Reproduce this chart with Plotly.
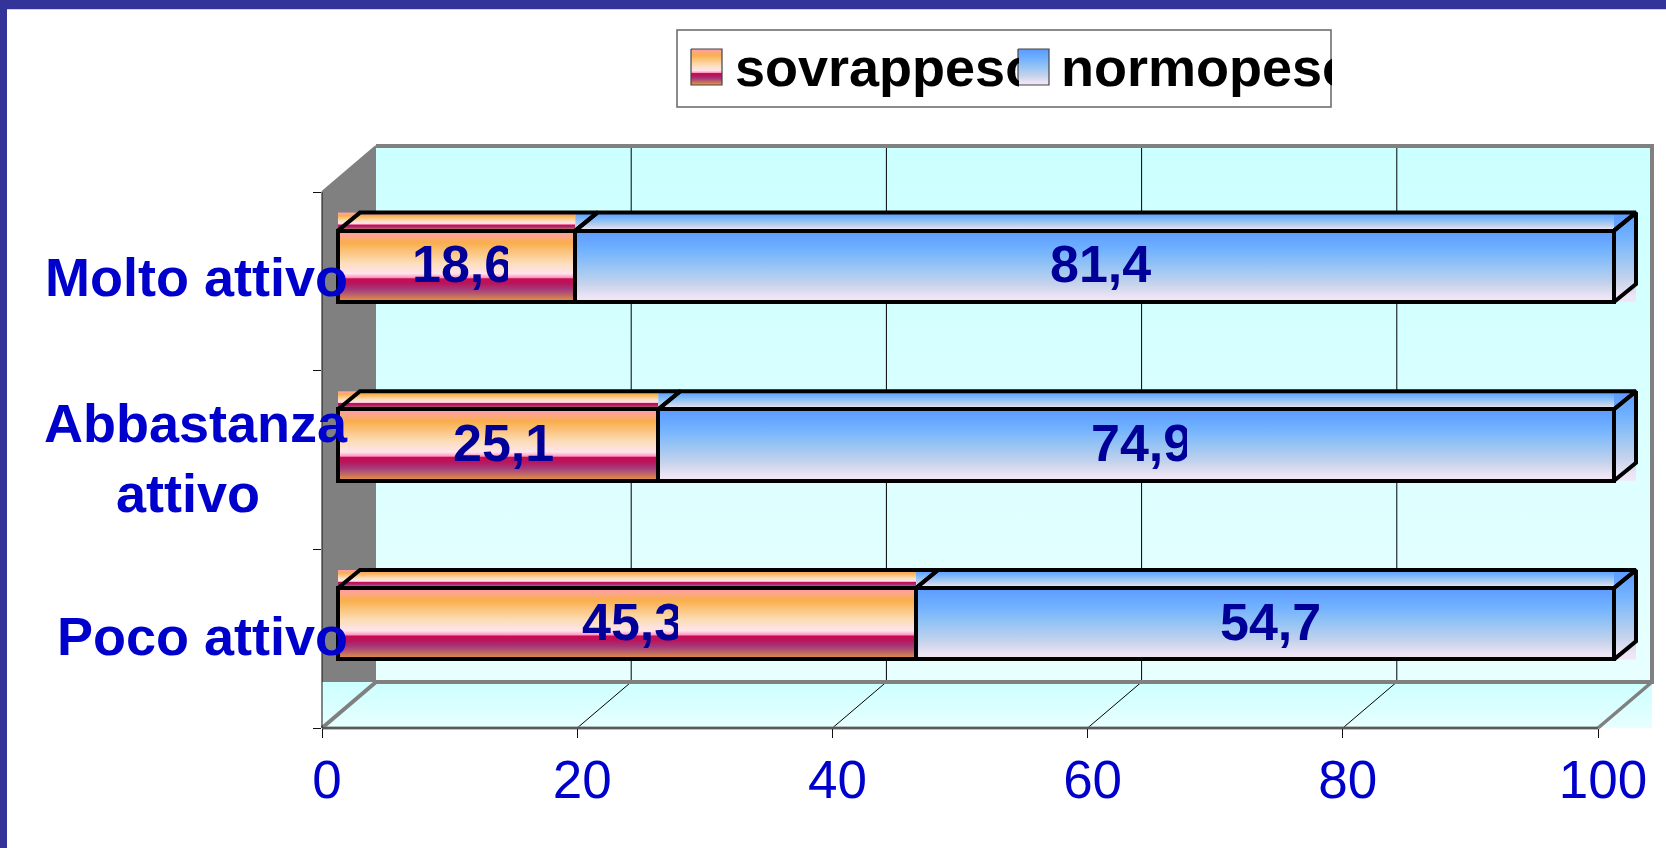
import plotly.graph_objects as go

# ---------- data ----------
categories = ["Poco attivo", "Abbastanza attivo", "Molto attivo"]
category_labels = ["Poco attivo", "Abbastanza<br>attivo\u00a0", "Molto attivo"]
sovrappeso = [45.3, 25.1, 18.6]
normopeso = [54.7, 74.9, 81.4]
value_labels_sovrappeso = ["45,3", "25,1", "18,6"]
value_labels_normopeso = ["54,7", "74,9", "81,4"]
x_ticks = [0, 20, 40, 60, 80, 100]
series_names = ["sovrappeso", "normopeso"]

# ---------- styles / geometry (pixels of the 1666x848 page) ----------
W, H = 1666, 848
ROOM_L, ROOM_R, ROOM_T, ROOM_B = 322, 1652, 146, 728
UX = (1598 - 322) / 100      # px per value unit
UY = (728 - 192) / 3         # px per category
WALL_DX = 54 / UX
WALL_DY = 46 / UY
BAR_L, BAR_T, BAR_B = 338, 177, 713
BAR_DX = 22 / UX
BAR_DY = 18 / UY
BAR_W = 0.4
OUTLINE = 4
BLUE_TEXT = "#0000CC"
NAVY = "#000099"
FONT = "Liberation Sans"
GRAY = "#808080"

ORANGE = [[0.0, "#FF9AA0"], [0.07, "#FDA590"], [0.17, "#F9AE4A"], [0.30, "#FBC47E"],
          [0.45, "#FCDDB8"], [0.60, "#FFE4EC"], [0.655, "#FF99C0"], [0.675, "#C60C52"],
          [0.74, "#B8155C"], [0.82, "#A5397A"], [0.90, "#BD6468"], [1.0, "#EE9A3C"]]
BLUE = [[0.0, "#5C9AFF"], [0.25, "#6FB0FF"], [0.5, "#96C4F4"], [0.75, "#C6D3EC"],
        [0.92, "#EBE4F4"], [1.0, "#F4E6F6"]]
WALL_TOP_DOWN = [[0.0, "#CCFFFF"], [1.0, "#E8FFFF"]]


def flip(scale):
    return [[1 - p, c] for p, c in reversed(scale)]


def dom_x(a, b):
    return [a / W, b / W]


def dom_y(top, bottom):
    return [(H - bottom) / H, (H - top) / H]


fig = go.Figure()


def poly(xs, ys, xa, ya, grad=None, fill=None, line=None, width=0):
    kw = dict(x=xs, y=ys, xaxis=xa, yaxis=ya, mode="lines", showlegend=False,
              hoverinfo="skip", cliponaxis=False)
    if line is None:
        kw["line"] = dict(width=0)
        kw["mode"] = "none"
    else:
        kw["line"] = dict(color=line, width=width)
    if grad is not None:
        kw["fill"] = "toself"
        kw["fillgradient"] = dict(type="vertical", colorscale=grad, start=min(ys), stop=max(ys))
    elif fill is not None:
        kw["fill"] = "toself"
        kw["fillcolor"] = fill
    fig.add_trace(go.Scatter(**kw))


top_x = 100 + WALL_DX
top_y = 3 + WALL_DY
PADX, PADY = 1.0, 0.05    # room around the marks so that no outline is cut

# ---------- room (x / y, hidden axes with some padding) ----------
poly([0, 0, WALL_DX, WALL_DX, 0], [WALL_DY, 3, top_y, WALL_DY, WALL_DY], "x", "y", fill=GRAY)
poly([WALL_DX, top_x, top_x, WALL_DX, WALL_DX], [WALL_DY, WALL_DY, top_y, top_y, WALL_DY],
     "x", "y", grad=flip(WALL_TOP_DOWN))
poly([0, top_x, top_x, 0, 0], [0, 0, WALL_DY, WALL_DY, 0], "x", "y", grad=flip(WALL_TOP_DOWN))

for t in x_ticks[1:-1]:
    poly([t, t + WALL_DX, t + WALL_DX], [0, WALL_DY, top_y], "x", "y", line="#000000", width=1)
poly([0, WALL_DX, top_x, top_x], [0, WALL_DY, WALL_DY, top_y], "x", "y", line=GRAY, width=4)
poly([100, top_x], [0, WALL_DY], "x", "y", line=GRAY, width=3.5)
poly([WALL_DX, top_x, top_x], [top_y, top_y, WALL_DY], "x", "y", line=GRAY, width=4)
poly([0, WALL_DX], [3, top_y], "x", "y", line=GRAY, width=2)
poly([0, 100], [0, 0], "x", "y", line=GRAY, width=3)
poly([0, 100], [0, 0], "x", "y", line="#333333", width=1)
poly([0, 0], [0, 3], "x", "y", line="#111111", width=1)

# ---------- bar faces: gradients and depth edges (x2 / y2) ----------
for i in range(len(categories)):
    segments = [(0, sovrappeso[i], flip(ORANGE)),
                (sovrappeso[i], sovrappeso[i] + normopeso[i], flip(BLUE))]
    lo, hi = i - BAR_W / 2, i + BAR_W / 2
    for c0, c1, grad in segments:
        poly([c0, c1, c1, c0, c0], [lo, lo, hi, hi, lo], "x2", "y2", grad=grad)
        poly([c0, c1, c1, c0, c0], [hi, hi, hi + BAR_DY, hi + BAR_DY, hi], "x2", "y2", grad=grad)
    end = segments[-1][1]
    poly([end, end + BAR_DX, end + BAR_DX, end, end],
         [lo, lo, hi + BAR_DY, hi + BAR_DY, lo], "x2", "y2", grad=flip(BLUE))
    for c0, c1, _ in segments:
        poly([c0, c0 + BAR_DX, c1 + BAR_DX, c1], [hi, hi + BAR_DY, hi + BAR_DY, hi],
             "x2", "y2", line="#000000", width=OUTLINE)
    poly([end, end + BAR_DX, end + BAR_DX, end], [hi, hi + BAR_DY, lo + BAR_DY, lo],
         "x2", "y2", line="#000000", width=OUTLINE)

# ---------- the bars themselves (x3 / y3) ----------
for name, vals in zip(series_names, [sovrappeso, normopeso]):
    fig.add_trace(go.Bar(
        y=categories, x=vals, name=name, orientation="h", xaxis="x3", yaxis="y3",
        marker=dict(color="rgba(0,0,0,0)", line=dict(color="#000000", width=OUTLINE)),
        showlegend=False, cliponaxis=False))

# ---------- the visible ticks (x4 / y4) ----------
fig.add_trace(go.Scatter(x=x_ticks, y=[0] * len(x_ticks), xaxis="x4", yaxis="y4", mode="none",
                         showlegend=False, hoverinfo="skip"))

# ---------- legend swatches (x5 / y5) ----------
for x0, grad in [(14, ORANGE), (341, BLUE)]:
    poly([x0, x0 + 31, x0 + 31, x0, x0], [19, 19, 55, 55, 19], "x5", "y5", grad=grad,
         line="#444444", width=1.2)

# ---------- annotations ----------
ann = []
label_shift = [3, 2, 4]
for i, lab in enumerate(category_labels):
    ann.append(dict(xref="paper", yref="y", x=350 / W, y=i + 0.5, text="<b>" + lab + "</b>",
                    showarrow=False, xanchor="right", yanchor="middle", align="center",
                    yshift=label_shift[i],
                    font=dict(family=FONT, size=54, color=BLUE_TEXT)))

clip_s = [96, 101, 96]
clip_n = [102, 96, 102]
for i in range(len(categories)):
    for c, lab, clip in [(sovrappeso[i] / 2, value_labels_sovrappeso[i], clip_s[i]),
                         (sovrappeso[i] + normopeso[i] / 2, value_labels_normopeso[i], clip_n[i])]:
        ann.append(dict(xref="x2", yref="y2", x=c, y=i, text="<b>" + lab + "</b>", showarrow=False,
                        xanchor="left", yanchor="middle", align="left", width=clip,
                        xshift=-46, yshift=2, borderpad=0,
                        font=dict(family=FONT, size=52, color=NAVY)))

for x0, name, clip in [(57, series_names[0], 284), (383, series_names[1], 271)]:
    ann.append(dict(xref="x5", yref="y5", x=x0, y=37, text="<b>" + name + "</b>", showarrow=False,
                    xanchor="left", yanchor="middle", align="left", width=clip, borderpad=0,
                    font=dict(family=FONT, size=54, color="#000000")))

# ---------- frame and legend box ----------
shapes = [
    dict(type="rect", xref="paper", yref="paper", x0=7 / W, x1=1, y0=1 - 10 / H, y1=1 - 9 / H,
         fillcolor="#D0D0D0", line=dict(width=0), layer="above"),
    dict(type="rect", xref="paper", yref="paper", x0=0, x1=1, y0=1 - 9 / H, y1=1,
         fillcolor="#333399", line=dict(width=0), layer="above"),
    dict(type="rect", xref="paper", yref="paper", x0=0, x1=7 / W, y0=0, y1=1,
         fillcolor="#333399", line=dict(width=0), layer="above"),
    dict(type="rect", xref="paper", yref="paper", x0=677 / W, x1=1331 / W,
         y0=1 - 107 / H, y1=1 - 30 / H, fillcolor="#FFFFFF",
         line=dict(color="#666666", width=1.5), layer="below"),
]

hidden = dict(visible=False, showgrid=False, zeroline=False, fixedrange=True)
B_PX = 1.0

fig.update_layout(
    width=W, height=H, autosize=False,
    margin=dict(l=0, r=0, t=0, b=0, pad=0, autoexpand=False),
    paper_bgcolor="#FFFFFF", plot_bgcolor="rgba(0,0,0,0)",
    barmode="stack", bargap=0.6, showlegend=False,
    shapes=shapes, annotations=ann,
    xaxis=dict(domain=dom_x(ROOM_L - PADX * UX, ROOM_R + PADX * UX), range=[-PADX, top_x + PADX],
               anchor="y", **hidden),
    yaxis=dict(domain=dom_y(ROOM_T - PADY * UY, ROOM_B + PADY * UY), range=[-PADY, top_y + PADY],
               anchor="x", **hidden),
    xaxis2=dict(domain=dom_x(BAR_L - B_PX * UX, BAR_L + (100 + BAR_DX + B_PX) * UX),
                range=[-B_PX, 100 + BAR_DX + B_PX], anchor="y2", **hidden),
    yaxis2=dict(domain=dom_y(BAR_T, BAR_B), range=[-0.5, 2.5], anchor="x2", **hidden),
    xaxis3=dict(domain=dom_x(BAR_L - B_PX * UX, BAR_L + (100 + BAR_DX + B_PX) * UX),
                range=[-B_PX, 100 + BAR_DX + B_PX], anchor="y3", **hidden),
    yaxis3=dict(domain=dom_y(BAR_T, BAR_B), range=[-0.5, 2.5], anchor="x3", type="category",
                categoryorder="array", categoryarray=categories, **hidden),
    xaxis4=dict(domain=dom_x(322, 1598), range=[0, 100], tickmode="array", tickvals=x_ticks,
                ticks="outside", ticklen=9, tickcolor="#111111", tickwidth=1,
                showgrid=False, zeroline=False, showline=False, ticklabelshift=5,
                ticklabelstandoff=-4, anchor="y4",
                tickfont=dict(family=FONT, size=53, color=BLUE_TEXT)),
    yaxis4=dict(domain=dom_y(192, 728), range=[0, 3], tickmode="array", tickvals=[0, 1, 2, 3],
                ticks="outside", ticklen=8, tickcolor="#111111", tickwidth=1, showticklabels=False,
                showgrid=False, zeroline=False, showline=False, anchor="x4"),
    xaxis5=dict(domain=dom_x(677, 1331), range=[0, 654], anchor="y5", **hidden),
    yaxis5=dict(domain=dom_y(30, 107), range=[77, 0], anchor="x5", **hidden),
)

fig.write_html("out.html", config={"displayModeBar": False},
               post_script="document.body.style.margin='0';document.body.style.overflow='hidden';")
